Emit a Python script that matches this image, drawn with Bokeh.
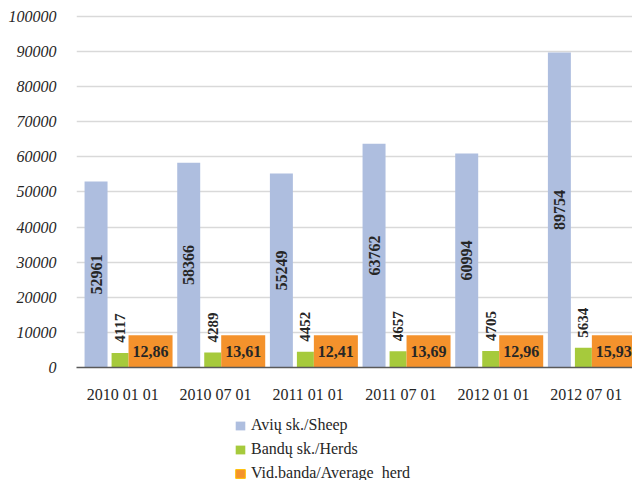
import math
from bokeh.plotting import figure
from bokeh.layouts import column
from bokeh.models import ColumnDataSource, FactorRange, Range1d, Legend, LegendItem, FixedTicker, NumeralTickFormatter
from bokeh.transform import dodge
from bokeh.core.properties import value
from bokeh.embed import file_html
from bokeh.resources import INLINE

dates = ["2010 01 01", "2010 07 01", "2011 01 01", "2011 07 01", "2012 01 01", "2012 07 01"]
sheep = [52961, 58366, 55249, 63762, 60994, 89754]
herds = [4117, 4289, 4452, 4657, 4705, 5634]
avg_herd = [12.86, 13.61, 12.41, 13.69, 12.96, 15.93]
avg_bar_height = [9200, 9200, 9200, 9200, 9200, 9200]
y_ticks = [0, 10000, 20000, 30000, 40000, 50000, 60000, 70000, 80000, 90000, 100000]
series_names = ["Avių sk./Sheep", "Bandų sk./Herds", "Vid.banda/Average  herd"]

SHEEP_C = "#AEBEDF"
HERD_C = "#A6CA3C"
AVG_C = "#F4922C"
FONT = value("Liberation Serif")

src = ColumnDataSource(dict(
    x=dates, sheep=sheep, herds=herds, avg=avg_herd, avgh=avg_bar_height,
    sheep_half=[v / 2 for v in sheep],
    avg_half=[v / 2 for v in avg_bar_height],
    sheep_lbl=[str(v) for v in sheep],
    herds_lbl=[str(v) for v in herds],
    avg_lbl=[("%.2f" % v).replace(".", ",") for v in avg_herd],
))

p = figure(x_range=FactorRange(factors=dates, range_padding=0),
           y_range=Range1d(0, 100568),
           width=632, height=405, output_backend="svg", toolbar_location=None,
           min_border_left=76, min_border_right=0, min_border_top=14, min_border_bottom=37)
p.outline_line_color = None
p.background_fill_color = "white"

p.vbar(x=dodge("x", -0.289, range=p.x_range), top="sheep", width=0.248, source=src,
       fill_color=SHEEP_C, line_color=None)
p.vbar(x=dodge("x", -0.03, range=p.x_range), top="herds", width=0.183, source=src,
       fill_color=HERD_C, line_color=None)
p.vbar(x=dodge("x", 0.299, range=p.x_range), top="avgh", width=0.475, source=src,
       fill_color=AVG_C, line_color=None)

p.text(x=dodge("x", -0.289, range=p.x_range), y="sheep_half", text="sheep_lbl", source=src,
       angle=math.pi / 2, text_align="center", text_baseline="middle",
       text_font=FONT, text_font_style="bold", text_font_size="16px", text_color="#262626")
p.text(x=dodge("x", -0.03, range=p.x_range), y="herds", text="herds_lbl", source=src,
       angle=math.pi / 2, text_align="center", text_baseline="middle", y_offset=-25,
       text_font=FONT, text_font_style="bold", text_font_size="15px", text_color="#262626")
p.text(x=dodge("x", 0.299, range=p.x_range), y="avg_half", text="avg_lbl", source=src,
       text_align="center", text_baseline="middle",
       text_font=FONT, text_font_style="bold", text_font_size="16px", text_color="#262626")

p.xgrid.grid_line_color = None
p.ygrid.grid_line_color = "#D9D9D9"
p.ygrid.grid_line_width = 1.5
p.yaxis.ticker = FixedTicker(ticks=y_ticks)
p.yaxis.formatter = NumeralTickFormatter(format="0")
p.yaxis.axis_line_color = None
p.yaxis.major_tick_line_color = None
p.yaxis.minor_tick_line_color = None
p.yaxis.major_label_text_font = "Liberation Serif"
p.yaxis.major_label_text_font_style = "italic"
p.yaxis.major_label_text_font_size = "16px"
p.yaxis.major_label_text_color = "#262626"
p.yaxis.major_label_standoff = 14

p.xaxis.axis_line_color = "#595959"
p.xaxis.axis_line_width = 1.5
p.xaxis.major_tick_line_color = None
p.xaxis.minor_tick_line_color = None
p.xaxis.major_label_text_font = "Liberation Serif"
p.xaxis.major_label_text_font_size = "16px"
p.xaxis.major_label_text_color = "#262626"
p.xaxis.major_label_standoff = 12

# legend panel (swatch renderers sit outside the visible range)
p2 = figure(width=632, height=75, output_backend="svg", toolbar_location=None,
            x_range=Range1d(0, 1), y_range=Range1d(0, 1),
            min_border_left=0, min_border_right=0, min_border_top=0, min_border_bottom=0)
p2.axis.visible = False
p2.grid.grid_line_color = None
p2.outline_line_color = None
swatch = ColumnDataSource(dict(x=[5], top=[5]))
l1 = p2.vbar(x="x", top="top", width=0.1, source=swatch, fill_color=SHEEP_C, line_color=None)
l2 = p2.vbar(x="x", top="top", width=0.1, source=swatch, fill_color=HERD_C, line_color=None)
l3 = p2.vbar(x="x", top="top", width=0.1, source=swatch, fill_color=AVG_C, line_color="#FFC000")

legend = Legend(items=[
    LegendItem(label=series_names[0], renderers=[l1], index=0),
    LegendItem(label=series_names[1], renderers=[l2], index=0),
    LegendItem(label=series_names[2], renderers=[l3], index=0),
], location=(158, -3), orientation="vertical",
    glyph_width=12, glyph_height=11, label_height=20, spacing=4, padding=0, margin=0,
    label_text_font="Liberation Serif", label_text_font_size="16px", label_text_color="#262626",
    border_line_color=None, background_fill_alpha=0, label_standoff=5)
p2.add_layout(legend)

layout = column(p, p2, spacing=0)
open("out.html", "w").write(file_html(layout, INLINE))
